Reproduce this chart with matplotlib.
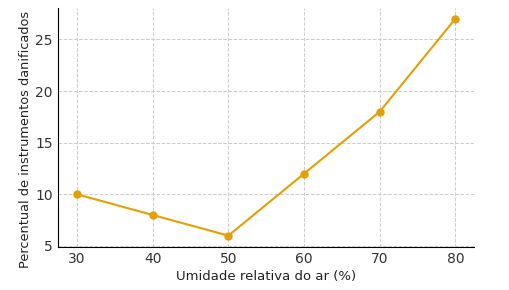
import matplotlib
matplotlib.use("Agg")
import matplotlib.pyplot as plt

umidade = [30, 40, 50, 60, 70, 80]
danificados = [10, 8, 6, 12, 18, 27]

fig, ax = plt.subplots(figsize=(5.1, 2.9), dpi=100)
fig.subplots_adjust(left=0.114, right=0.93, top=0.973, bottom=0.15)

ax.plot(umidade, danificados, color="#E69F00", marker="o", markersize=5, linewidth=1.5)

ax.grid(True, linestyle="--", color="#cccccc", linewidth=0.7)
ax.spines["top"].set_visible(False)
ax.spines["right"].set_visible(False)
ax.tick_params(length=0, labelsize=10, colors="#333333", pad=4)
ax.set_xticks(umidade)
ax.set_yticks([5, 10, 15, 20, 25])
ax.set_xlabel("Umidade relativa do ar (%)", fontsize=9.5, color="#222222", labelpad=3)
ax.set_ylabel("Percentual de instrumentos danificados", fontsize=9.3, color="#222222")
ax.yaxis.set_label_coords(-0.062, 0.45)

plt.savefig("out.png")
